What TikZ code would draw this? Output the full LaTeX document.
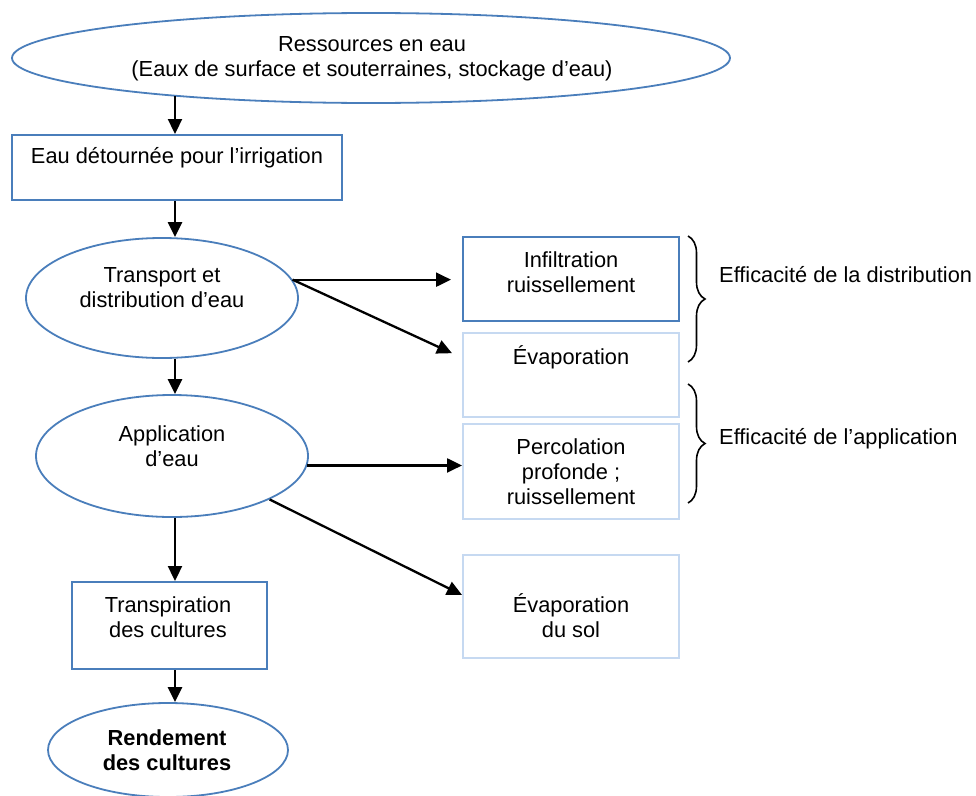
\documentclass[tikz,border=0pt]{standalone}
\usepackage{fontspec}
\setmainfont{Liberation Sans}
\usetikzlibrary{arrows.meta,shapes.geometric,decorations.pathreplacing,calc}
\definecolor{darkblue}{RGB}{74,126,187}
\definecolor{lightblue}{RGB}{198,217,241}
\begin{document}
\begin{tikzpicture}[x=1pt,y=-1pt,
  txt/.style={align=center,inner sep=0pt,font=\fontsize{21.8}{25}\selectfont},
  oval/.style={ellipse,draw=darkblue,line width=1.8pt,inner sep=0pt},
  darkbox/.style={rectangle,draw=darkblue,line width=2pt,inner sep=0pt},
  lightbox/.style={rectangle,draw=lightblue,line width=2pt,inner sep=0pt},
  arr/.style={line width=2.3pt,-{Triangle[length=15pt,width=14pt]}},
  brc/.style={decorate,decoration={brace,amplitude=17pt},line width=1.6pt}]
\useasboundingbox (0,0) rectangle (976,795);
\fill[white] (0,0) rectangle (976,795);

% shapes
\node[oval,minimum width=718pt,minimum height=90pt] (res) at (371,58) {};
\node[darkbox,minimum width=330pt,minimum height=65pt] (b1) at (177,167.5) {};
\node[oval,minimum width=272pt,minimum height=120pt] (tr) at (162,298) {};
\node[oval,minimum width=272pt,minimum height=122pt] (ap) at (172,456) {};
\node[darkbox,minimum width=195pt,minimum height=87pt] (tp) at (169.5,625.5) {};
\node[oval,minimum width=240pt,minimum height=94pt] (ren) at (168,750) {};
\node[darkbox,minimum width=216pt,minimum height=84pt] (inf) at (571,279) {};
\node[lightbox,minimum width=216pt,minimum height=84pt] (ev1) at (571,375) {};
\node[lightbox,minimum width=216pt,minimum height=95pt] (perc) at (571,471.5) {};
\node[lightbox,minimum width=216pt,minimum height=103pt] (evs) at (571,606.5) {};

% texts
\node[txt] (tres) at (372,59) {Ressources en eau\\(Eaux de surface et souterraines, stockage d’eau)};
\node[txt] (tb1) at (177,158) {Eau détournée pour l’irrigation};
\node[txt] (ttr) at (162,287.5) {Transport et\\distribution d’eau};
\node[txt] (tap) at (172,446) {Application\\d’eau};
\node[txt] (ttp) at (168,617) {Transpiration\\des cultures};
\node[txt,font=\fontsize{21.8}{25}\selectfont\bfseries] (tren) at (167,750) {Rendement\\des cultures};
\node[txt] (tinf) at (571,272) {Infiltration\\ruissellement};
\node[txt] (tev1) at (571,357) {Évaporation};
\node[txt] (tperc) at (571,472) {Percolation\\profonde ;\\ruissellement};
\node[txt] (tevs) at (571,616) {Évaporation\\du sol};

% axis for the vertical chain
\coordinate (axis) at (175,0);

% vertical arrows
\draw[arr] (axis |- res.191) -- (axis |- b1.north);
\draw[arr] (axis |- b1.south) -- (axis |- tr.north);
\draw[arr] (axis |- tr.south) -- (axis |- ap.north);
\draw[arr] (axis |- ap.south) -- (axis |- tp.north);
\draw[arr] (axis |- tp.south) -- (axis |- ren.north);

% side arrows
\draw[arr,shorten >=11pt] (tr.8) -- (tr.8 -| inf.west);
\draw[arr,shorten >=11pt] (tr.8) -- ($(ev1.north west)!0.3!(ev1.south west)$);
\draw[arr] (ap.-4) -- (ap.-4 -| perc.west);
\draw[arr] (ap.-24) -- ($(evs.north west)!0.39!(evs.south west)$);

% braces
\coordinate (bra1) at (688,236);
\coordinate (bra2) at (688,362);
\coordinate (brb1) at (688,384);
\coordinate (brb2) at (688,503);
\draw[brc] (bra1) -- (bra2);
\draw[brc] (brb1) -- (brb2);
\node[txt,anchor=west] (ldist) at (719,275) {Efficacité de la distribution};
\node[txt,anchor=west] (lapp) at (719,439) {Efficacité de l’application};
\end{tikzpicture}
\end{document}
